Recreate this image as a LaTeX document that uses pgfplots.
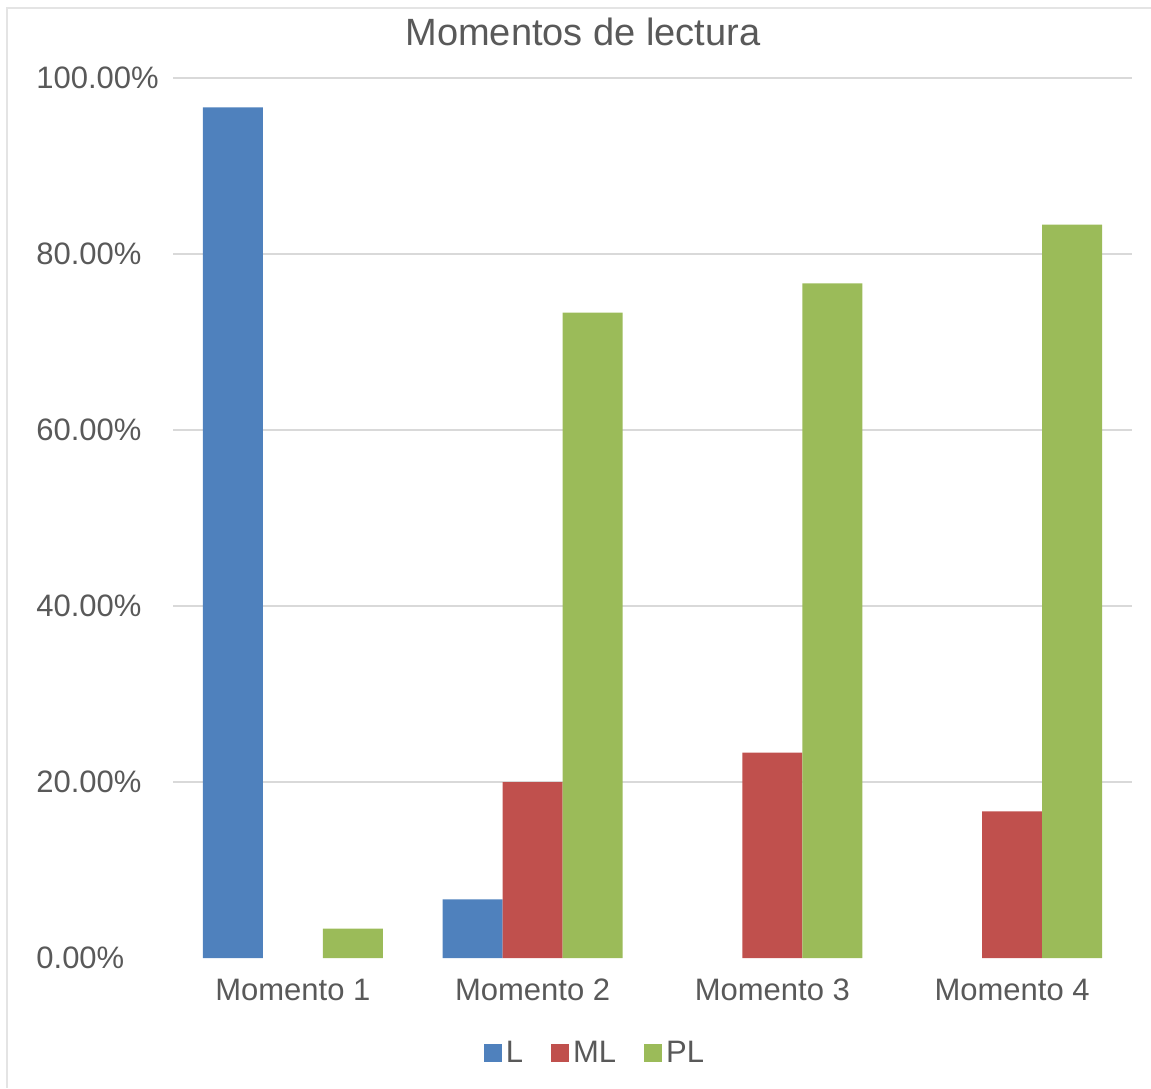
\documentclass[border=0pt]{standalone}
\usepackage{pgfplots}
\pgfplotsset{compat=1.18}
\usepackage{fontspec}
\setmainfont{Liberation Sans}
\definecolor{cL}{HTML}{4F81BD}
\definecolor{cML}{HTML}{C0504D}
\definecolor{cPL}{HTML}{9BBB59}
\definecolor{txt}{HTML}{595959}
\definecolor{grd}{HTML}{D9D9D9}
\begin{document}
\begin{tikzpicture}
\useasboundingbox (0,0) rectangle (575.5pt,544pt);
\draw[grd!70, line width=0.6pt] (3.5pt,0pt) -- (3.5pt,540pt) -- (575.5pt,540pt);
\begin{axis}[
    at={(86.5pt,65pt)}, anchor=south west,
    scale only axis,
    width=479.5pt, height=440pt,
    ybar=0pt, bar width=30pt,
    xmin=-0.5, xmax=3.5,
    ymin=0, ymax=100,
    xtick={0,1,2,3},
    xticklabels={Momento 1, Momento 2, Momento 3, Momento 4},
    ytick={0,20,40,60,80,100},
    yticklabels={0.00\%,20.00\%,40.00\%,60.00\%,80.00\%,100.00\%},
    extra y ticks={20,40,60,80,100},
    extra y tick labels={},
    extra y tick style={grid=major},
    major tick length=0pt,
    axis line style={draw=none},
    grid style={grd, line width=1pt},
    axis on top=false,
    tick label style={font=\fontsize{15.5}{18}\selectfont, text=txt},
    yticklabel style={anchor=west, inner xsep=0pt, xshift=-68.5pt},
    xticklabel style={yshift=-7pt},
    title={Momentos de lectura},
    title style={font=\fontsize{19}{22}\selectfont, text=txt, at={(0.4275,1.0384)}, anchor=center},
    legend columns=3,
    legend style={draw=none, at={(0.441,-0.108)}, anchor=center,
        font=\fontsize{15.5}{18}\selectfont, text=txt,
        /tikz/every even column/.append style={column sep=12pt}},
    legend image code/.code={\fill (0pt,-4.5pt) rectangle (9pt,4.5pt);},
]
\addplot[fill=cL, draw=none] coordinates {(0,96.67) (1,6.67)};
\addplot[fill=cML, draw=none] coordinates {(1,20.00) (2,23.33) (3,16.67)};
\addplot[fill=cPL, draw=none] coordinates {(0,3.33) (1,73.33) (2,76.67) (3,83.33)};
\legend{L,ML,PL}
\end{axis}
\end{tikzpicture}
\end{document}
